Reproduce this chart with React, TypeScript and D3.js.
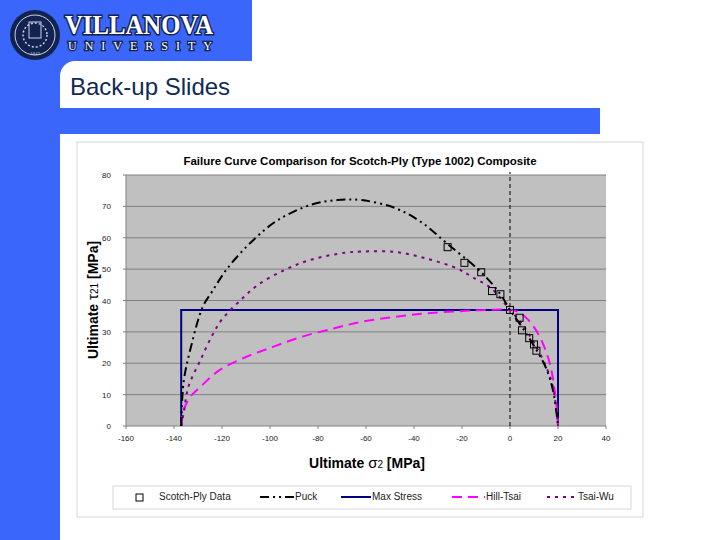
import React from 'react';
import * as d3 from 'd3';

const puckX = [-137, -136, -133, -128, -124, -118, -108, -97, -83, -72, -62, -48, -37, -26, -12, -4, 0, 5, 10, 15, 18, 20];
const puckY = [0, 14, 25, 38, 43, 50, 58.5, 65.5, 70.5, 72, 72, 69.5, 65, 58, 49, 42, 37, 31.5, 25.5, 18.5, 11, 0];

const tsaiWuX = [-137, -136, -134, -129, -124, -120, -112, -105, -94, -83, -69, -62, -48, -35, -22, -16, -8, 0, 5, 10, 15, 18, 20];
const tsaiWuY = [0, 4, 12.5, 21, 29, 34, 40.3, 45, 49.7, 53, 55.2, 55.6, 55.5, 53.4, 50.2, 47.6, 44, 37, 32.5, 26.5, 19, 12, 0];

const hillTsaiX = [-137, -136, -133, -129, -121, -110, -98.5, -87, -73.5, -62, -48, -35, -21, -10, 0, 3, 7, 10, 13, 16, 17.5, 19, 19.7, 20];
const hillTsaiY = [0, 5, 9.5, 12.5, 17.8, 22, 25.3, 28.4, 31.1, 33.2, 34.8, 35.9, 36.6, 37, 37, 36.5, 34.3, 31.5, 27.5, 21.5, 16.8, 9, 4, 0];

const maxStressX = [-137, -137, 20, 20];
const maxStressY = [0, 37, 37, 0];

const dataX = [-26, -19, -12, -7.5, -4, 0, 4, 5, 8, 10, 11];
const dataY = [57, 52, 49, 43, 42, 37, 34.5, 30.5, 28, 26, 24];

const zeroLineX = [0, 0];
const zeroLineY = [0, 81];

const xTicks = [-160, -140, -120, -100, -80, -60, -40, -20, 0, 20, 40];
const yTicks = [0, 10, 20, 30, 40, 50, 60, 70, 80];

const BLUE = '#3a66fb';
const FONT = 'Arial, "Liberation Sans", sans-serif';

const zip = (xs: number[], ys: number[]) => xs.map((x, i) => [x, ys[i]] as [number, number]);

export default function App() {
  const x = d3.scaleLinear().domain([-160, 40]).range([126, 606]);
  const y = d3.scaleLinear().domain([0, 80]).range([426, 175]);

  const smooth = d3.line<[number, number]>()
    .x(d => x(d[0]))
    .y(d => y(d[1]))
    .curve(d3.curveCatmullRom.alpha(0.5));
  const straight = d3.line<[number, number]>()
    .x(d => x(d[0]))
    .y(d => y(d[1]));

  const legendItems = [
    { label: 'Puck', x0: 260, stroke: '#000', dash: '9,4,2,4,2,4', tx: 295 },
    { label: 'Max Stress', x0: 341, stroke: '#000080', dash: '', tx: 372 },
    { label: 'Hill-Tsai', x0: 452, stroke: '#ff00ff', dash: '10,6', tx: 486 },
    { label: 'Tsai-Wu', x0: 547, stroke: '#800080', dash: '3,5', tx: 578 },
  ];

  return (
    <svg width={720} height={540} style={{ position: 'absolute', left: 0, top: 0 }} fontFamily={FONT}>
      {/* slide background */}
      <rect x={0} y={0} width={720} height={540} fill="#fff" />
      <rect x={0} y={0} width={60} height={540} fill={BLUE} />
      <rect x={0} y={0} width={252} height={61} fill={BLUE} />
      <path d="M60,76 A15,15 0 0 1 75,61 L60,61 Z" fill={BLUE} />
      <rect x={60} y={108} width={540} height={26} fill={BLUE} />

      {/* logo */}
      <g>
        <circle cx={35} cy={35} r={25} fill="#13234f" />
        <circle cx={35} cy={35} r={20} fill="none" stroke="#c9d3ea" strokeWidth={1} />
        <circle cx={35} cy={35} r={12} fill="none" stroke="#c9d3ea" strokeWidth={1.5} strokeDasharray="2,2" />
        <rect x={29} y={22} width={12} height={16} fill="none" stroke="#c9d3ea" strokeWidth={1} />
        <text x={35} y={55} textAnchor="middle" fontSize={5} fill="#c9d3ea" fontFamily="serif">1842</text>
        <text x={139} y={34} textAnchor="middle" fontSize={27} fontWeight="bold" fill="#fff" stroke="#13234f"
          strokeWidth={3} paintOrder="stroke" fontFamily='"Liberation Serif", "DejaVu Serif", serif' textLength={148}
          lengthAdjust="spacingAndGlyphs">VILLANOVA</text>
        <text x={140} y={50} textAnchor="middle" fontSize={12} fill="#fff" stroke="#13234f" strokeWidth={2.5}
          paintOrder="stroke" fontFamily='"Liberation Serif", "DejaVu Serif", serif' textLength={144}
          lengthAdjust="spacing">UNIVERSITY</text>
      </g>

      <text x={70} y={95} fontSize={24} fill="#0d2b55" fontFamily={FONT}>Back-up Slides</text>

      {/* chart frame */}
      <rect x={77} y={142} width={566} height={375} fill="#fff" stroke="#d8d8d8" strokeWidth={1} />

      <text x={360} y={165} textAnchor="middle" fontSize={11.5} fontWeight="bold" fill="#000">
        Failure Curve Comparison for Scotch-Ply (Type 1002) Composite
      </text>

      {/* plot area */}
      <rect x={x(-160)} y={y(80)} width={x(40) - x(-160)} height={y(0) - y(80)} fill="#c0c0c0" />
      {yTicks.filter(t => t > 0).map(t => (
        <line key={'g' + t} x1={x(-160)} x2={x(40)} y1={y(t)} y2={y(t)} stroke="#808080" strokeWidth={1} />
      ))}
      <line x1={x(-160)} x2={x(-160)} y1={y(0)} y2={y(80)} stroke="#808080" />
      <line x1={x(-160)} x2={x(40)} y1={y(0)} y2={y(0)} stroke="#808080" />

      {yTicks.map(t => (
        <g key={'y' + t}>
          <line x1={x(-160) - 3} x2={x(-160)} y1={y(t)} y2={y(t)} stroke="#808080" />
          <text x={111} y={y(t) + 3} textAnchor="end" fontSize={8} fill="#222">{t}</text>
        </g>
      ))}
      {xTicks.map(t => (
        <g key={'x' + t}>
          <line x1={x(t)} x2={x(t)} y1={y(0)} y2={y(0) + 3} stroke="#808080" />
          <text x={x(t)} y={441} textAnchor="middle" fontSize={8} fill="#222">{t}</text>
        </g>
      ))}

      {/* series */}
      <path d={straight(zip(zeroLineX, zeroLineY)) || ''} fill="none" stroke="#000" strokeWidth={1} strokeDasharray="4,3" />
      <path d={straight(zip(maxStressX, maxStressY)) || ''} fill="none" stroke="#000080" strokeWidth={2} />
      <path d={smooth(zip(hillTsaiX, hillTsaiY)) || ''} fill="none" stroke="#ff00ff" strokeWidth={2} strokeDasharray="10,6" />
      <path d={smooth(zip(tsaiWuX, tsaiWuY)) || ''} fill="none" stroke="#800080" strokeWidth={2} strokeDasharray="3,5" />
      <path d={smooth(zip(puckX, puckY)) || ''} fill="none" stroke="#000" strokeWidth={2} strokeDasharray="9,4,2,4,2,4" />
      {zip(dataX, dataY).map((d, i) => (
        <rect key={'d' + i} x={x(d[0]) - 3.5} y={y(d[1]) - 3.5} width={7} height={7} fill="none" stroke="#000" strokeWidth={1} />
      ))}

      {/* axis titles */}
      <text x={367} y={468} textAnchor="middle" fontSize={14} fontWeight="bold" fill="#000">
        Ultimate <tspan fontWeight="normal" fontSize={15}>σ</tspan><tspan fontWeight="normal" fontSize={10}>2</tspan> [MPa]
      </text>
      <text transform="translate(98,300) rotate(-90)" textAnchor="middle" fontSize={14} fontWeight="bold" fill="#000">
        Ultimate <tspan fontWeight="normal" fontSize={15}>τ</tspan><tspan fontWeight="normal" fontSize={10}>21</tspan> [MPa]
      </text>

      {/* legend */}
      <rect x={113} y={486} width={518} height={23} fill="#fff" stroke="#d8d8d8" />
      <rect x={136} y={494} width={7} height={7} fill="none" stroke="#000" />
      <text x={159} y={500} fontSize={10} fill="#222">Scotch-Ply Data</text>
      {legendItems.map(it => (
        <g key={it.label}>
          <line x1={it.x0} x2={it.tx - 1} y1={497} y2={497} stroke={it.stroke} strokeWidth={2}
            strokeDasharray={it.dash || undefined} />
          <text x={it.tx} y={500} fontSize={10} fill="#222">{it.label}</text>
        </g>
      ))}
    </svg>
  );
}
